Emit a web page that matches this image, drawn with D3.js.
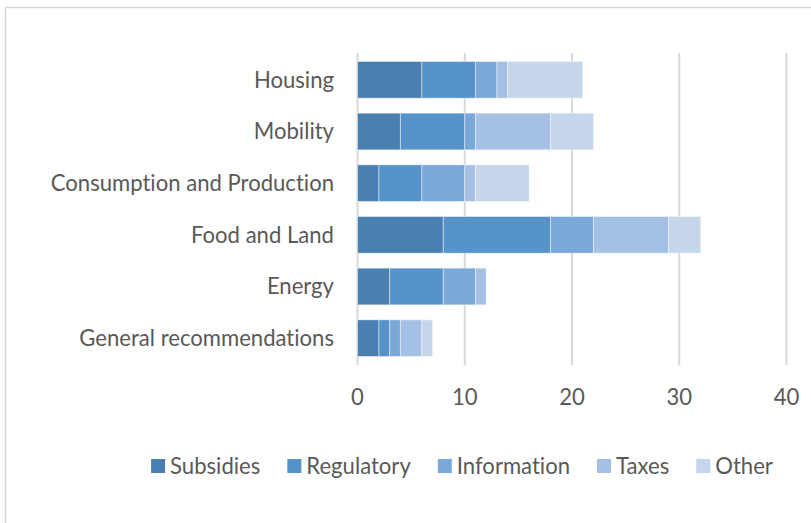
<!DOCTYPE html>
<html>
<head>
<meta charset="utf-8">
<script src="https://cdn.jsdelivr.net/npm/d3@7"></script>
<style>
  html, body { margin: 0; padding: 0; background: #fff; }
  svg { display: block; font-family: Lato, "Liberation Sans", sans-serif; font-variant-ligatures: none; }
</style>
</head>
<body>
<svg id="chart" width="811" height="523"></svg>
<script>
// categories, top to bottom
const categories = ["Housing", "Mobility", "Consumption and Production", "Food and Land", "Energy", "General recommendations"];
const seriesNames = ["Subsidies", "Regulatory", "Information", "Taxes", "Other"];
const subsidies   = [6, 4, 2, 8, 3, 2];
const regulatory  = [5, 6, 4, 10, 5, 1];
const information = [2, 1, 4, 4, 3, 1];
const taxes       = [1, 7, 1, 7, 1, 2];
const other       = [7, 4, 5, 3, 0, 1];
const xTicks = [0, 10, 20, 30, 40];
const colors = ["#4a7fb1", "#5593ca", "#7aa8d9", "#a4c0e4", "#c5d5ea"];

const FONT = 22.1;
const TEXT = "#595959";
const GRID = "#d9d9d9";

const svg = d3.select("#chart");

// chart frame (runs off the right/bottom edge like the original)
svg.append("rect")
   .attr("x", 5.5).attr("y", 7.5)
   .attr("width", 820).attr("height", 530)
   .attr("fill", "none")
   .attr("stroke", GRID)
   .attr("stroke-width", 1.5);

const rows = categories.map((c, i) => ({
    category: c,
    Subsidies: subsidies[i],
    Regulatory: regulatory[i],
    Information: information[i],
    Taxes: taxes[i],
    Other: other[i]
}));

const x = d3.scaleLinear().domain([0, 40]).range([357.5, 786.5]);
const y = d3.scaleBand().domain(categories).range([54, 364]).paddingInner(0.29).paddingOuter(0.145);

// gridlines
svg.append("g")
   .selectAll("line")
   .data(xTicks)
   .join("line")
   .attr("x1", d => x(d)).attr("x2", d => x(d))
   .attr("y1", 53).attr("y2", 365)
   .attr("stroke", GRID)
   .attr("stroke-width", 2);

// stacked bars
const stack = d3.stack().keys(seriesNames);
const layers = stack(rows);

svg.append("g")
   .selectAll("g")
   .data(layers)
   .join("g")
   .attr("fill", (d, i) => colors[i])
   .selectAll("rect")
   .data(d => d.filter(s => s[1] - s[0] > 0))
   .join("rect")
   .attr("x", d => x(d[0]))
   .attr("y", d => y(d.data.category))
   .attr("width", d => x(d[1]) - x(d[0]))
   .attr("height", y.bandwidth())
   .attr("stroke", "#ffffff")
   .attr("stroke-opacity", 0.45)
   .attr("stroke-width", 1);

// x tick labels
svg.append("g")
   .selectAll("text")
   .data(xTicks)
   .join("text")
   .attr("x", d => x(d))
   .attr("y", 397)
   .attr("dy", "0.35em")
   .attr("text-anchor", "middle")
   .attr("font-size", FONT)
   .attr("fill", TEXT)
   .text(d => d);

// category labels
svg.append("g")
   .selectAll("text")
   .data(categories)
   .join("text")
   .attr("x", 334)
   .attr("y", d => y(d) + y.bandwidth() / 2)
   .attr("dy", "0.35em")
   .attr("text-anchor", "end")
   .attr("font-size", FONT)
   .attr("fill", TEXT)
   .text(d => d);

// legend, laid out by measured text width and centred
const legend = svg.append("g");
const items = legend.selectAll("g")
   .data(seriesNames)
   .join("g");
items.append("rect")
   .attr("width", 14).attr("height", 14)
   .attr("y", -7)
   .attr("fill", (d, i) => colors[i]);
items.append("text")
   .attr("x", 19)
   .attr("dy", "0.35em")
   .attr("font-size", FONT)
   .attr("fill", TEXT)
   .text(d => d);

let offset = 0;
const gap = 27;
items.each(function () {
    const w = 19 + d3.select(this).select("text").node().getComputedTextLength();
    d3.select(this).attr("transform", `translate(${offset},0)`);
    offset += w + gap;
});
const total = offset - gap;
legend.attr("transform", `translate(${462 - total / 2},466)`);
</script>
</body>
</html>
